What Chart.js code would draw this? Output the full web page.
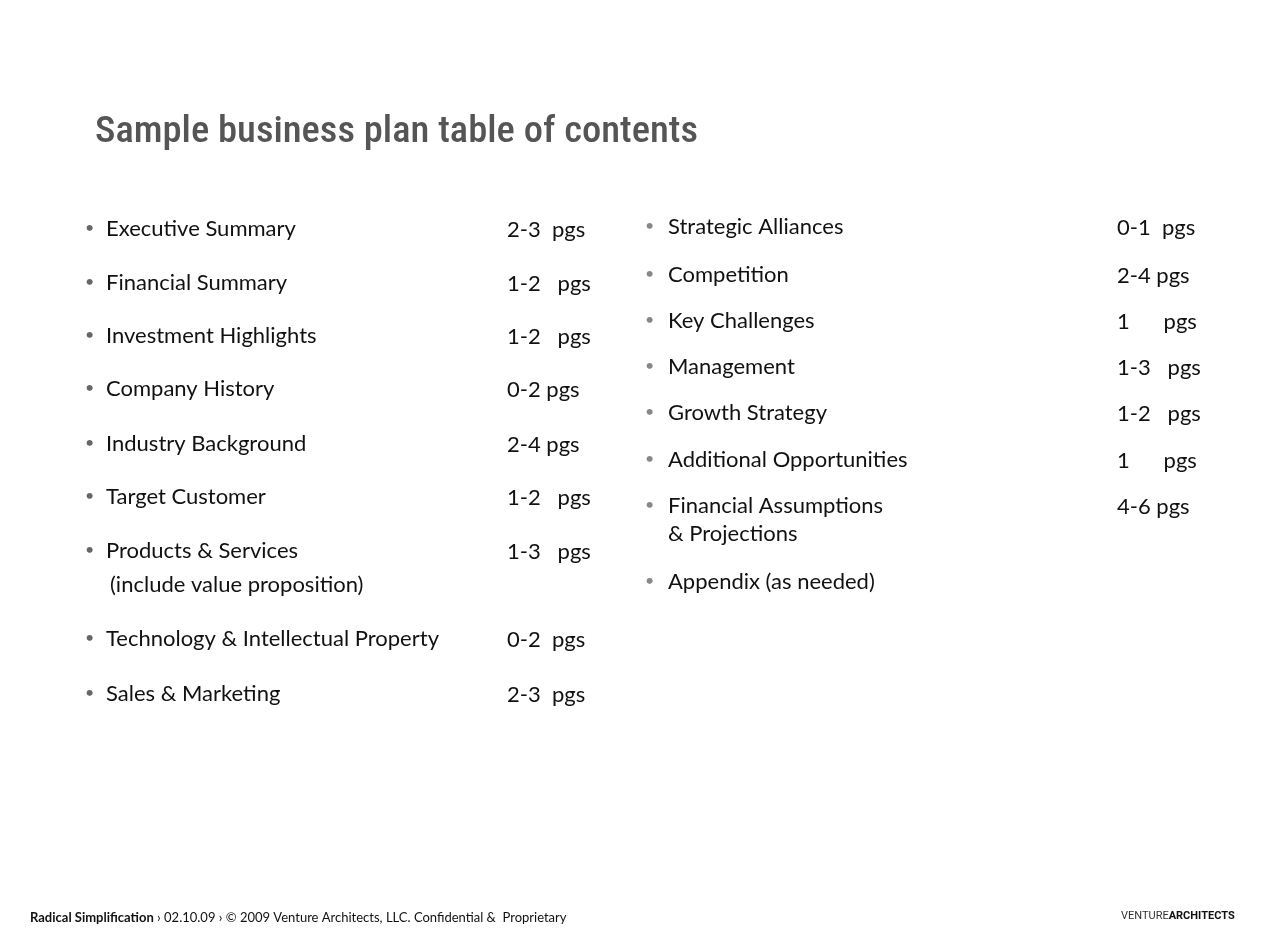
<!DOCTYPE html>
<html><head><meta charset="utf-8">
<script src="https://cdn.jsdelivr.net/npm/chart.js@4"></script>
<style>html,body{margin:0;padding:0;background:#fff}#wrap{width:1265px;height:947px}</style>
</head><body><div id="wrap"><canvas id="c" width="1265" height="947"></canvas></div>
<script>
const title = "Sample business plan table of contents";
const leftItems = ["Executive Summary","Financial Summary","Investment Highlights","Company History","Industry Background","Target Customer","Products & Services","Technology & Intellectual Property","Sales & Marketing"];
const leftSub = ["","","","","","","(include value proposition)","",""];
const leftPages = ["2-3  pgs","1-2   pgs","1-2   pgs","0-2 pgs","2-4 pgs","1-2   pgs","1-3   pgs","0-2  pgs","2-3  pgs"];
const rightItems = ["Strategic Alliances","Competition","Key Challenges","Management","Growth Strategy","Additional Opportunities","Financial Assumptions","Appendix (as needed)"];
const rightSub = ["","","","","","","& Projections",""];
const rightPages = ["0-1  pgs","2-4 pgs","1      pgs","1-3   pgs","1-2   pgs","1      pgs","4-6 pgs",""];
const footerBold = "Radical Simplification";
const footerRest = " › 02.10.09 › © 2009 Venture Architects, LLC. Confidential &  Proprietary";

const layout = {
  left:{bx:88,tx:106,px:507,ys:[229,283,336,389,444,497,551,639,694],subx:110,subdy:34},
  right:{bx:648,tx:668,px:1117,ys:[227,275,321,367,413,460,506,582],subx:668,subdy:28}
};
const F = "'Lato','Open Sans',sans-serif";

const textPlugin = {
  id:'slide',
  afterDraw(chart){
    const ctx = chart.ctx;
    ctx.save();
    ctx.textBaseline='middle';
    ctx.fillStyle='#555';
    ctx.font="500 37px 'Roboto Condensed','Liberation Sans Narrow','Roboto',sans-serif";
    // fit title to width 603
    let w = ctx.measureText(title).width;
    ctx.save(); ctx.translate(95,133); ctx.scale(603/w,1); ctx.fillText(title,0,0); ctx.restore();
    function col(items,subs,pages,L,bulletColor){
      items.forEach((t,i)=>{
        const y=L.ys[i];
        ctx.fillStyle=bulletColor; ctx.font="16px "+F; ctx.fillText("•",L.bx-3,y-1);
        ctx.fillStyle='#111'; ctx.font="22px "+F;
        ctx.fillText(t,L.tx,y);
        if(subs[i]) ctx.fillText(subs[i],L.subx,y+L.subdy);
        if(pages[i]) ctx.fillText(pages[i],L.px,y+1);
      });
    }
    col(leftItems,leftSub,leftPages,layout.left,'#666');
    col(rightItems,rightSub,rightPages,layout.right,'#888');
    ctx.fillStyle='#111';
    ctx.font="bold 13px "+F; ctx.fillText(footerBold,30,918);
    const bw=ctx.measureText(footerBold).width;
    ctx.font="13px "+F; ctx.fillText(footerRest,30+bw,918);
    ctx.font="11px 'Liberation Sans Narrow','Roboto',sans-serif"; ctx.fillStyle='#333';
    ctx.fillText("VENTURE",1121,916);
    const vw=ctx.measureText("VENTURE").width;
    ctx.font="bold 11px 'Liberation Sans Narrow','Roboto',sans-serif"; ctx.fillStyle='#111';
    ctx.fillText("ARCHITECTS",1121+vw,916);
    ctx.restore();
  }
};
new Chart(document.getElementById('c'),{
  type:'bar',
  data:{labels:leftItems,datasets:[{data:[],label:''}]},
  options:{responsive:false,animation:false,events:[],
    plugins:{legend:{display:false},tooltip:{enabled:false}},
    scales:{x:{display:false},y:{display:false}}},
  plugins:[textPlugin]
});
</script></body></html>
